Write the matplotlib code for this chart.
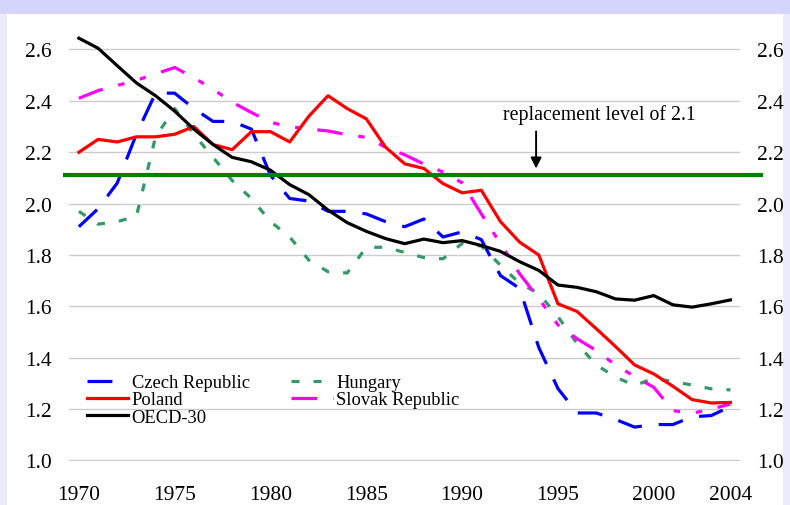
import numpy as np
import matplotlib
matplotlib.use("Agg")
import matplotlib.pyplot as plt
from matplotlib.patches import Rectangle

plt.rcParams['font.family'] = ['Liberation Serif', 'DejaVu Serif']

years = list(range(1970, 2005))

czech = [1.91, 1.98, 2.08, 2.27, 2.43, 2.43, 2.37, 2.32, 2.32, 2.29,
         2.11, 2.02, 2.01, 1.97, 1.97, 1.96, 1.93, 1.91, 1.94, 1.87,
         1.89, 1.86, 1.72, 1.67, 1.44, 1.28, 1.185, 1.185, 1.16, 1.13,
         1.14, 1.14, 1.17, 1.175, 1.21]
hungary = [1.97, 1.92, 1.93, 1.95, 2.26, 2.37, 2.27, 2.18, 2.09, 2.02,
           1.93, 1.87, 1.78, 1.735, 1.73, 1.83, 1.83, 1.81, 1.79, 1.785,
           1.845, 1.835, 1.76, 1.69, 1.65, 1.56, 1.455, 1.372, 1.325, 1.292,
           1.32, 1.307, 1.294, 1.279, 1.275]
poland = [2.20, 2.25, 2.24, 2.26, 2.26, 2.27, 2.30, 2.23, 2.21, 2.28,
          2.28, 2.24, 2.34, 2.42, 2.37, 2.33, 2.22, 2.155, 2.137, 2.078,
          2.042, 2.052, 1.93, 1.85, 1.80, 1.61, 1.58, 1.513, 1.444, 1.372,
          1.337, 1.289, 1.237, 1.224, 1.226]
slovak = [2.41, 2.44, 2.46, 2.48, 2.505, 2.53, 2.49, 2.445, 2.395, 2.355,
          2.316, 2.30, 2.29, 2.283, 2.268, 2.258, 2.22, 2.19, 2.154, 2.123,
          2.081, 1.96, 1.844, 1.727, 1.63, 1.528, 1.474, 1.428, 1.372, 1.327,
          1.285, 1.194, 1.184, 1.20, 1.22]
oecd = [2.644, 2.605, 2.537, 2.47, 2.42, 2.36, 2.29, 2.23, 2.18, 2.163,
        2.13, 2.074, 2.035, 1.975, 1.926, 1.892, 1.864, 1.844, 1.862, 1.848,
        1.856, 1.837, 1.814, 1.774, 1.74, 1.683, 1.674, 1.657, 1.629, 1.624,
        1.642, 1.606, 1.597, 1.61, 1.625]

replacement = 2.11
xtick_years = [1970, 1975, 1980, 1985, 1990, 1995, 2000, 2004]
yticks = [1.0, 1.2, 1.4, 1.6, 1.8, 2.0, 2.2, 2.4, 2.6]

fig = plt.figure(figsize=(7.9, 5.06), dpi=100)
fig.patch.set_facecolor('#ebebfa')
# lavender strip on top, white page inside the frame
fig.patches.append(Rectangle((0, 491 / 506), 1, 15 / 506, transform=fig.transFigure,
                             facecolor='#d4d4fc', edgecolor='none', zorder=-10))
fig.patches.append(Rectangle((7 / 790, 0), 776 / 790, 491 / 506, transform=fig.transFigure,
                             facecolor='white', edgecolor='none', zorder=-10))

ax = fig.add_axes([69.3 / 790, 44.5 / 506, 670.7 / 790, 436.7 / 506])
ax.set_facecolor('none')

lw = 2.3
l_cz, = ax.plot(years, czech, color='#0000ff', lw=lw, dashes=(7.8, 5.3), label='Czech Republic')
l_hu, = ax.plot(years, hungary, color='#339966', lw=lw, dashes=(2.5, 4.4), label='Hungary')
l_sk, = ax.plot(years, slovak, color='#ff00ff', lw=lw, dashes=(8, 5, 2, 5, 2, 5), label='Slovak Republic')
l_pl, = ax.plot(years, poland, color='#ff0000', lw=lw, label='Poland')
l_oe, = ax.plot(years, oecd, color='black', lw=lw, label='OECD-30')

ax.axhline(replacement, xmin=-0.006, xmax=1.032, color='#008000', lw=3.0, clip_on=False, zorder=5)

ax.annotate('', xy=(1993.86, 2.126), xytext=(1993.86, 2.292),
            arrowprops=dict(arrowstyle='-|>', color='black', lw=1.4, mutation_scale=16))
ax.text(1992.13, 2.347, 'replacement level of 2.1', fontsize=14.3, ha='left', va='center')

ax.set_xlim(1969.5, 2004.5)
ax.set_ylim(1.0, 2.7)
ax.set_xticks(xtick_years)
ax.set_yticks(yticks)
ax.set_yticklabels([f'{v:.1f}' for v in yticks])
ax.grid(axis='y', color='#cccccc', lw=1)
ax.set_axisbelow(True)
for s in ax.spines.values():
    s.set_visible(False)
ax.tick_params(axis='y', length=0, pad=12.5, labelsize=15.5, labelright=True)
ax.tick_params(axis='x', length=0, pad=17.5, labelsize=15.5)

ax.legend(handles=[l_cz, l_pl, l_oe, l_hu, l_sk], loc='upper left',
          bbox_to_anchor=(0.026, 0.198), ncol=2, frameon=False, fontsize=13.3,
          handlelength=2.25, handletextpad=0.18, columnspacing=2.25,
          labelspacing=0.02, borderpad=0, borderaxespad=0)

fig.savefig('out.png', dpi=100, facecolor=fig.get_facecolor())
